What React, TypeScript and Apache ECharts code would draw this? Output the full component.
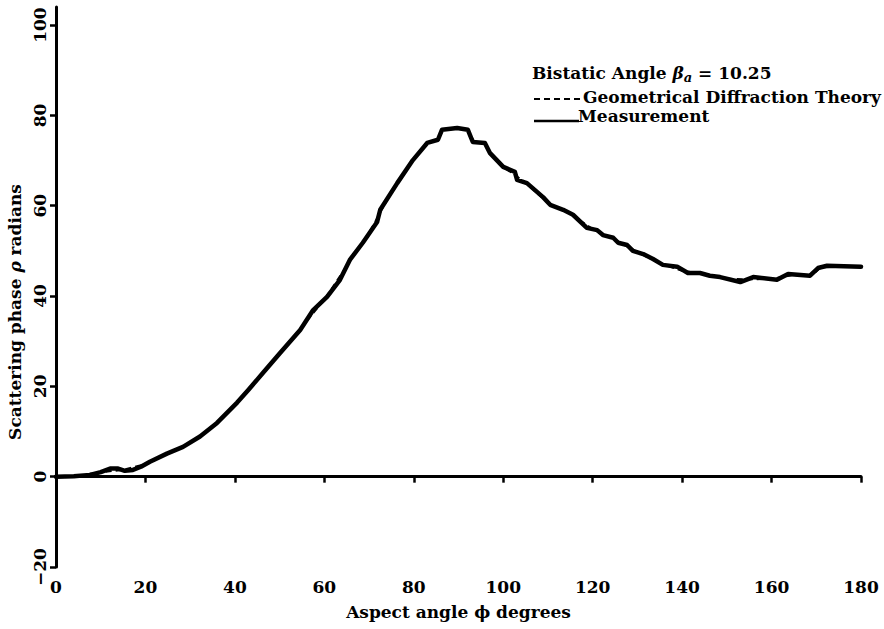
import React, { useEffect, useRef } from "react";
import * as echarts from "echarts";

const yTickValues = [-20, 0, 20, 40, 60, 80, 100];

const measAngle = [0, 4, 7.6, 10, 12.1, 13.9, 15.4, 17.2, 19, 21, 24.8, 28.4, 32.2, 36, 40.5, 43, 46.3, 50.1, 54.6, 57.5, 60.6, 63.5, 65.7, 68.6, 71.8, 72.5, 76.3, 79.8, 83.0, 85.4, 86.3, 89.7, 92.1, 93.2, 95.9, 97.0, 100, 102.6, 103.1, 105.3, 108.9, 110.5, 113.4, 115.6, 118.7, 121, 122.3, 124.6, 125.7, 127.7, 129, 131.3, 133.5, 135.7, 138.9, 141.3, 144, 146.2, 148.5, 153, 155.9, 161.2, 163.7, 168.6, 170.4, 172.4, 180];
const measPhase = [0, 0.1, 0.4, 1.0, 1.8, 1.8, 1.3, 1.5, 2.2, 3.3, 5.1, 6.6, 8.9, 11.9, 16.4, 19.2, 23.0, 27.4, 32.5, 36.9, 39.8, 43.6, 48.0, 51.8, 56.4, 59.1, 65.0, 70.1, 73.9, 74.6, 76.8, 77.2, 76.8, 74.1, 73.9, 71.7, 68.6, 67.5, 65.7, 65.0, 61.9, 60.2, 59.1, 58.0, 55.1, 54.6, 53.5, 52.9, 51.8, 51.3, 50.0, 49.3, 48.2, 46.9, 46.5, 45.1, 45.1, 44.5, 44.2, 43.1, 44.2, 43.6, 44.9, 44.5, 46.2, 46.7, 46.5];

const theoryAngle = [0, 5, 10, 15, 20, 25, 30, 35, 40, 45, 50, 55, 60, 65, 70, 75, 80, 83, 85, 86.5, 90, 92, 93.5, 96, 97, 100, 103, 105, 110, 115, 120, 125, 130, 135, 140, 145, 150, 155, 160, 165, 169, 171, 175, 180];
const theoryPhase = [0, 0.2, 1.0, 1.5, 2.8, 5.2, 7.5, 11.0, 15.8, 21.3, 27.3, 33.2, 39.2, 46.6, 54.0, 63.0, 70.3, 73.9, 74.5, 76.8, 77.2, 76.8, 74.2, 73.8, 71.7, 68.6, 66.5, 65.1, 60.6, 58.2, 54.8, 52.5, 49.7, 47.3, 45.6, 44.8, 43.8, 43.7, 43.8, 44.7, 44.6, 46.3, 46.6, 46.5];

const FONT = "DejaVu Serif";

export default function App() {
  const ref = useRef<HTMLDivElement>(null);
  useEffect(() => {
    if (!ref.current) return;
    const chart = echarts.init(ref.current, null, { renderer: "svg" });
    const meas = measAngle.map((a, i) => [a, measPhase[i]]);
    const theory = theoryAngle.map((a, i) => [a, theoryPhase[i]]);
    const txt = { fontFamily: FONT, fontWeight: "bold" as const, color: "#000" };
    chart.setOption({
      animation: false,
      backgroundColor: "#fff",
      grid: { left: 56, right: 23, top: 7, bottom: 62 },
      xAxis: {
        type: "value",
        min: 0,
        max: 180,
        interval: 20,
        name: "Aspect angle \u03D5 degrees",
        nameLocation: "middle",
        nameGap: 36,
        nameTextStyle: { ...txt, fontSize: 17 },
        axisLine: { lineStyle: { color: "#000", width: 3 } },
        axisTick: { inside: false, length: 6, lineStyle: { color: "#000", width: 2.5 } },
        axisLabel: { ...txt, fontSize: 17, margin: 11 },
        splitLine: { show: false },
      },
      yAxis: {
        type: "value",
        min: -20,
        max: 104,
        interval: 20,
        axisLine: { show: true, lineStyle: { color: "#000", width: 3 } },
        axisTick: { show: true, inside: false, length: 6, customValues: yTickValues, lineStyle: { color: "#000", width: 2.5 } },
        axisLabel: {
          ...txt,
          fontSize: 17,
          rotate: 90,
          margin: 8,
          customValues: yTickValues,
          formatter: (v: number) => (v < 0 ? "\u2212" + Math.abs(v) : String(v)),
        },
        splitLine: { show: false },
      },
      series: [
        {
          name: "Geometrical Diffraction Theory",
          type: "line",
          data: theory,
          showSymbol: false,
          z: 1,
          lineStyle: { color: "#000", width: 2, type: [6, 4] },
        },
        {
          name: "Measurement",
          type: "line",
          data: meas,
          showSymbol: false,
          z: 2,
          lineStyle: { color: "#000", width: 4.5, join: "round", cap: "round" },
        },
      ],
      graphic: [
        {
          type: "text",
          x: 15,
          y: 312,
          rotation: Math.PI / 2,
          style: {
            text: "Scattering phase {i|\u03C1} radians",
            font: `bold 17px '${FONT}'`,
            fill: "#000",
            align: "center",
            verticalAlign: "middle",
            rich: { i: { fontStyle: "italic", fontFamily: FONT, fontWeight: "bold", fontSize: 17 } },
          },
        },
        {
          type: "text",
          x: 532,
          y: 73,
          style: {
            text: "Bistatic Angle {i|\u03B2}{s|a} = 10.25",
            font: `bold 17px '${FONT}'`,
            fill: "#000",
            align: "left",
            verticalAlign: "middle",
            rich: {
              i: { fontStyle: "italic", fontFamily: FONT, fontWeight: "bold", fontSize: 17 },
              s: { fontStyle: "italic", fontFamily: FONT, fontWeight: "bold", fontSize: 13, padding: [8, 0, 0, 0] },
            },
          },
        },
        {
          type: "line",
          shape: { x1: 534, y1: 99, x2: 581, y2: 99 },
          style: { stroke: "#000", lineWidth: 2, lineDash: [6, 4] },
        },
        {
          type: "text",
          x: 583,
          y: 97,
          style: {
            text: "Geometrical Diffraction Theory",
            font: `bold 17px '${FONT}'`,
            fill: "#000",
            align: "left",
            verticalAlign: "middle",
          },
        },
        {
          type: "line",
          shape: { x1: 534, y1: 121, x2: 579, y2: 121 },
          style: { stroke: "#000", lineWidth: 2.5 },
        },
        {
          type: "text",
          x: 578,
          y: 116,
          style: {
            text: "Measurement",
            font: `bold 17px '${FONT}'`,
            fill: "#000",
            align: "left",
            verticalAlign: "middle",
          },
        },
      ],
    });
    return () => chart.dispose();
  }, []);
  return (
    <div
      ref={ref}
      style={{ position: "absolute", left: 0, top: 0, width: 884, height: 629, background: "#fff" }}
    />
  );
}
